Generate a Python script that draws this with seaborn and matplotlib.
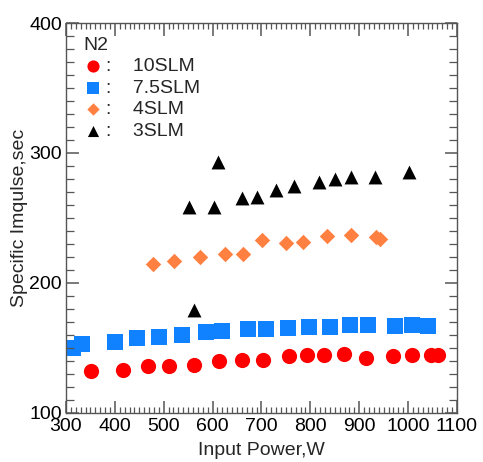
import numpy as np
import pandas as pd
import matplotlib
matplotlib.use("Agg")
import matplotlib.pyplot as plt
from matplotlib.ticker import MultipleLocator
import seaborn as sns

# N2 specific impulse vs. input power for four flow rates
power_10slm = [352, 416, 468, 511, 561, 613, 660, 704, 757, 793, 827, 869, 913, 970, 1009, 1046, 1062]
isp_10slm = [131.7, 133.0, 135.5, 135.5, 136.8, 140.0, 140.7, 140.7, 143.8, 144.0, 144.5, 145.3, 142.0, 143.2, 144.0, 144.5, 144.5]

power_7_5slm = [314, 332, 401, 445, 491, 537, 586, 620, 672, 709, 755, 798, 840, 881, 918, 973, 1009, 1041]
isp_7_5slm = [149.7, 152.7, 154.3, 157.4, 158.0, 160.0, 161.8, 162.5, 164.6, 164.6, 165.0, 165.6, 165.9, 167.2, 167.7, 167.0, 167.7, 166.4]

power_4slm = [478, 521, 574, 625, 663, 701, 751, 786, 834, 884, 934, 942]
isp_4slm = [214.8, 217.0, 219.7, 221.8, 221.8, 232.8, 230.7, 231.5, 235.9, 236.4, 235.4, 233.4]

power_3slm = [551, 561, 603, 611, 661, 691, 730, 767, 818, 851, 883, 932, 1001]
isp_3slm = [258.3, 179.3, 258.3, 293.3, 265.0, 266.3, 271.4, 274.3, 277.8, 279.6, 281.5, 281.5, 285.3]

series_labels = ["10SLM", "7.5SLM", "4SLM", "3SLM"]
legend_title = "N2"
x_label = "Input Power,W"
y_label = "Specific Imqulse,sec"

series = [
    (power_10slm, isp_10slm, "#ff0000", "o", 120),
    (power_7_5slm, isp_7_5slm, "#1082ff", "s", 120),
    (power_4slm, isp_4slm, "#ff8040", "D", 62),
    (power_3slm, isp_3slm, "#000000", "^", 100),
]

sns.set_style("ticks")
plt.rcParams["font.family"] = ["Liberation Sans", "DejaVu Sans"]
plt.rcParams["font.size"] = 14
plt.rcParams["axes.axisbelow"] = False

fig = plt.figure(figsize=(4.83, 4.62), dpi=100)
ax = fig.add_axes([0.1366, 0.107, 0.8094, 0.843])

for (xs, ys, color, marker, size), name in zip(series, series_labels):
    df = pd.DataFrame({"power": xs, "isp": ys})
    sns.scatterplot(data=df, x="power", y="isp", ax=ax, color=color, marker=marker,
                    s=size, linewidth=0, label=":    " + name)

ax.set_xlim(300, 1100)
ax.set_ylim(100, 400)
ax.xaxis.set_major_locator(MultipleLocator(100))
ax.xaxis.set_minor_locator(MultipleLocator(10))
ax.yaxis.set_major_locator(MultipleLocator(100))
ax.yaxis.set_minor_locator(MultipleLocator(10))

spine_color = "#555555"
for sp in ax.spines.values():
    sp.set_color(spine_color)
    sp.set_linewidth(1.0)
ax.tick_params(which="both", direction="in", bottom=True, left=True, top=True, right=True,
               colors=spine_color, labelsize=14, labelcolor="black")
ax.tick_params(axis="x", which="major", length=9, width=1.1, pad=4)
ax.tick_params(axis="x", which="minor", length=4, width=0.9)
ax.tick_params(axis="y", which="major", length=9, width=1.1, pad=3)
ax.tick_params(axis="y", which="minor", length=6, width=0.9)

ax.set_xlabel(x_label, fontsize=14, labelpad=5)
ax.set_ylabel(y_label, fontsize=14, labelpad=0.5)

leg = ax.legend(title=legend_title, loc="upper left", bbox_to_anchor=(0.045, 0.965),
                frameon=False, borderpad=0, borderaxespad=0, handlelength=1.0,
                handletextpad=0.15, labelspacing=0.2, fontsize=14, title_fontsize=14,
                alignment="left", markerscale=0.8)

fig.savefig("out.png", dpi=100)
